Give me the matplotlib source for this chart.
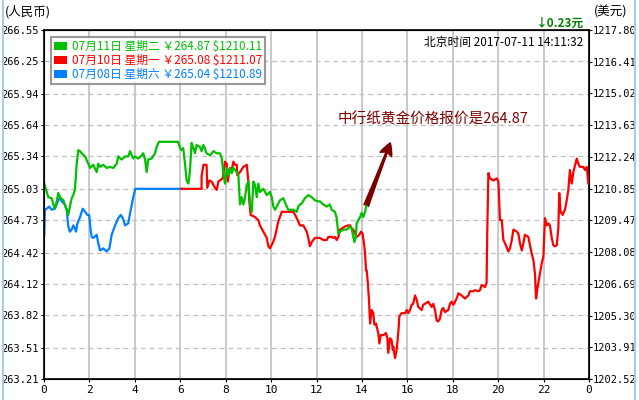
import matplotlib.pyplot as plt
from matplotlib.patches import Patch
from matplotlib.lines import Line2D

plt.rcParams['font.family'] = ['Noto Sans CJK SC', 'DejaVu Sans']

# hours since 00:00 Beijing time, price in CNY/gram
green_t = [0.01, 0.19, 0.34, 0.41, 0.48, 0.56, 0.63, 0.70, 0.85, 1.00, 1.07, 1.14, 1.22, 1.29, 1.36,
           1.44, 1.51, 1.59, 1.66, 1.81, 1.95, 2.03, 2.17, 2.32, 2.39, 2.47, 2.61, 2.76, 2.91, 3.05,
           3.20, 3.27, 3.42, 3.57, 3.71, 3.79, 3.93, 4.01, 4.15, 4.30, 4.37, 4.45, 4.52, 4.59, 4.74,
           4.89, 4.96, 5.06, 5.91, 5.99, 6.06, 6.13, 6.21, 6.28, 6.36, 6.43, 6.50, 6.58, 6.65, 6.72,
           6.87, 6.94, 7.02, 7.16, 7.31, 7.46, 7.61, 7.75, 7.83, 7.90, 7.97, 8.05, 8.12, 8.19, 8.27,
           8.34, 8.49, 8.56, 8.63, 8.71, 8.78, 8.85, 8.93, 9.00, 9.07, 9.15, 9.22, 9.29, 9.37, 9.44,
           9.51, 9.66, 9.81, 9.95, 10.03, 10.10, 10.17, 10.25, 10.39, 10.54, 10.69, 10.76, 10.98,
           11.13, 11.20, 11.27, 11.35, 11.49, 11.64, 11.79, 11.93, 12.08, 12.15, 12.30, 12.45, 12.59,
           12.67, 12.81, 12.89, 12.96, 13.04, 13.18, 13.33, 13.48, 13.55, 13.62, 13.67, 13.73, 13.77,
           13.84, 13.92, 13.99, 14.06, 14.14, 14.19]
green_p = [265.08, 264.95, 264.94, 264.88, 264.84, 264.91, 264.99, 264.95, 264.92, 264.83, 264.78,
           264.86, 264.94, 264.97, 265.02, 265.27, 265.40, 265.39, 265.37, 265.34, 265.27, 265.23,
           265.26, 265.19, 265.27, 265.24, 265.26, 265.23, 265.24, 265.23, 265.27, 265.34, 265.31,
           265.34, 265.34, 265.39, 265.32, 265.34, 265.32, 265.35, 265.37, 265.31, 265.19, 265.31,
           265.32, 265.37, 265.43, 265.48, 265.48, 265.42, 265.40, 265.42, 265.27, 265.11, 265.08,
           265.21, 265.47, 265.42, 265.37, 265.45, 265.43, 265.39, 265.45, 265.37, 265.35, 265.39,
           265.37, 265.37, 265.32, 265.18, 265.08, 265.23, 265.16, 265.23, 265.18, 265.23, 265.19,
           265.16, 264.88, 264.95, 264.88, 264.94, 265.07, 265.10, 264.89, 264.81, 265.10, 265.07,
           264.95, 265.08, 265.00, 265.03, 264.97, 265.00, 264.95, 264.86, 264.83, 264.86, 264.92,
           264.94, 264.86, 264.83, 264.83, 264.81, 264.86, 264.88, 264.89, 264.94, 264.97, 264.95,
           264.92, 264.91, 264.91, 264.88, 264.86, 264.88, 264.83, 264.81, 264.75, 264.60, 264.62,
           264.64, 264.64, 264.67, 264.65, 264.57, 264.52, 264.57, 264.70, 264.73, 264.76, 264.80,
           264.76, 264.81, 264.87]

red_t = [6.06, 6.94, 6.94, 7.02, 7.16, 7.19, 7.28, 7.38, 7.53, 7.61, 7.68, 7.75, 7.87, 7.97, 8.05,
         8.09, 8.19, 8.27, 8.34, 8.41, 8.49, 8.51, 8.63, 8.78, 8.93, 9.00, 9.04, 9.10, 9.29, 9.44,
         9.51, 9.66, 9.81, 9.88, 9.95, 10.07, 10.17, 10.32, 10.47, 10.83, 10.98, 11.13, 11.27, 11.42,
         11.57, 11.64, 11.71, 11.79, 11.93, 12.08, 12.15, 12.30, 12.45, 12.52, 12.67, 12.74, 12.81,
         12.89, 12.96, 13.04, 13.11, 13.26, 13.40, 13.48, 13.55, 13.62, 13.70, 13.77, 13.88, 13.96,
         14.03, 14.09, 14.14, 14.18, 14.21, 14.26, 14.31, 14.36, 14.43, 14.50, 14.55, 14.62, 14.72,
         14.77, 14.83, 14.94, 15.06, 15.12, 15.16, 15.24, 15.31, 15.36, 15.38, 15.46, 15.53, 15.60,
         15.65, 15.75, 15.90, 15.97, 16.04, 16.12, 16.19, 16.26, 16.34, 16.41, 16.48, 16.63, 16.70,
         16.78, 16.92, 17.07, 17.14, 17.22, 17.29, 17.36, 17.44, 17.51, 17.58, 17.66, 17.80, 17.88,
         17.95, 18.03, 18.10, 18.17, 18.25, 18.39, 18.54, 18.69, 18.76, 18.91, 18.98, 19.13, 19.20,
         19.27, 19.42, 19.49, 19.52, 19.57, 19.64, 19.79, 19.94, 20.01, 20.08, 20.16, 20.23, 20.30,
         20.45, 20.52, 20.60, 20.67, 20.82, 20.89, 20.96, 21.04, 21.11, 21.18, 21.33, 21.40, 21.48,
         21.55, 21.62, 21.67, 21.72, 21.77, 21.84, 21.92, 21.99, 22.06, 22.14, 22.21, 22.28, 22.36,
         22.43, 22.50, 22.58, 22.65, 22.69, 22.75, 22.84, 22.94, 23.02, 23.09, 23.16, 23.24, 23.31,
         23.46, 23.53, 23.60, 23.75, 23.82, 23.90, 23.97, 24.00]
red_p = [265.03, 265.03, 265.15, 265.26, 265.26, 265.04, 265.11, 265.10, 265.04, 265.02, 265.10,
         265.11, 265.13, 265.29, 265.27, 265.10, 265.23, 265.21, 265.29, 265.26, 265.26, 265.16,
         265.19, 265.24, 265.26, 265.10, 264.91, 264.78, 264.76, 264.73, 264.68, 264.62, 264.56,
         264.48, 264.46, 264.51, 264.57, 264.72, 264.81, 264.81, 264.81, 264.75, 264.68, 264.68,
         264.62, 264.56, 264.48, 264.52, 264.56, 264.56, 264.56, 264.54, 264.54, 264.57, 264.57,
         264.56, 264.57, 264.54, 264.57, 264.64, 264.65, 264.67, 264.68, 264.68, 264.65, 264.64,
         264.60, 264.57, 264.59, 264.62, 264.60, 264.51, 264.41, 264.25, 264.25, 264.13, 263.97,
         263.74, 263.87, 263.84, 263.73, 263.74, 263.65, 263.55, 263.63, 263.63, 263.65, 263.60,
         263.46, 263.60, 263.58, 263.49, 263.52, 263.41, 263.49, 263.65, 263.81, 263.84, 263.84,
         263.87, 263.84, 263.87, 263.92, 263.93, 264.01, 263.97, 263.90, 263.87, 263.92, 263.93,
         263.95, 263.90, 263.93, 263.87, 263.77, 263.76, 263.79, 263.87, 263.89, 263.85, 263.87,
         263.93, 263.95, 263.92, 263.95, 263.98, 264.03, 264.01, 263.98, 264.01, 264.05, 264.05,
         264.06, 264.05, 264.06, 264.11, 264.09, 264.13, 264.62, 265.18, 265.13, 265.11, 265.13,
         265.10, 264.73, 264.73, 264.54, 264.51, 264.43, 264.46, 264.54, 264.64, 264.62, 264.60,
         264.51, 264.44, 264.51, 264.59, 264.57, 264.49, 264.41, 264.35, 264.22, 263.98, 264.06,
         264.13, 264.22, 264.32, 264.38, 264.75, 264.68, 264.70, 264.68, 264.56, 264.49, 264.48,
         264.49, 264.65, 264.99, 264.81, 264.78, 264.83, 264.92, 265.02, 265.21, 265.08, 265.19,
         265.32, 265.27, 265.24, 265.24, 265.21, 265.24, 265.08, 265.08]

blue_t = [0.01, 0.04, 0.12, 0.23, 0.34, 0.48, 0.63, 0.70, 0.78, 0.92, 1.00, 1.07, 1.14, 1.22, 1.29,
          1.36, 1.41, 1.47, 1.59, 1.70, 1.81, 1.91, 1.99, 2.05, 2.10, 2.17, 2.32, 2.39, 2.47, 2.61,
          2.76, 2.88, 2.98, 3.13, 3.27, 3.38, 3.47, 3.57, 3.71, 3.82, 3.93, 4.02, 6.06]
blue_p = [264.59, 264.83, 264.84, 264.86, 264.83, 264.84, 264.92, 264.94, 264.91, 264.88, 264.83,
          264.67, 264.62, 264.64, 264.68, 264.65, 264.62, 264.70, 264.76, 264.84, 264.81, 264.78,
          264.78, 264.64, 264.57, 264.56, 264.59, 264.51, 264.44, 264.46, 264.43, 264.46, 264.59,
          264.68, 264.75, 264.78, 264.75, 264.68, 264.70, 264.83, 264.95, 265.03, 265.03]

legend_labels = ["07月11日 星期二 ￥264.87 $1210.11",
                 "07月10日 星期一 ￥265.08 $1211.07",
                 "07月08日 星期六 ￥265.04 $1210.89"]
colors = ["#00c000", "#ff0000", "#0080ff"]

cny_ticks = [263.21, 263.51, 263.82, 264.12, 264.42, 264.73, 265.03, 265.34, 265.64, 265.94,
             266.25, 266.55]
usd_ticks = [1202.52, 1203.91, 1205.30, 1206.69, 1208.08, 1209.47, 1210.85, 1212.24, 1213.63,
             1215.02, 1216.41, 1217.80]
hour_ticks = list(range(0, 25, 2))
hour_labels = [str(h % 24) for h in hour_ticks]

note = "中行纸黄金价格报价是264.87"
note_pos = (12.95, 265.70)
arrow_tip = (15.25, 265.47)

fig = plt.figure(figsize=(6.39, 4.0), dpi=100)
ax = fig.add_axes([44 / 639, 21 / 400, 545 / 639, 349 / 400])

ax.plot(blue_t, blue_p, color=colors[2], lw=1.6, zorder=3)
ax.plot(red_t, red_p, color=colors[1], lw=1.6, zorder=4)
ax.plot(green_t, green_p, color=colors[0], lw=1.6, zorder=5)

ax.set_xlim(0, 24)
ax.set_ylim(cny_ticks[0], cny_ticks[-1])
ax.set_xticks(hour_ticks)
ax.set_xticklabels(hour_labels, family='DejaVu Sans Mono', fontsize=8)
ax.set_yticks(cny_ticks)
ax.set_yticklabels([f"{v:.2f}" for v in cny_ticks], family='DejaVu Sans Mono', fontsize=7.5)
ax.tick_params(axis='both', length=2, pad=2)
ax.grid(axis='y', color='#c0c0c0', linestyle=(0, (4, 3)), lw=0.9)
ax.grid(axis='x', color='#c0c0c0', linestyle='-', lw=1.2)
for s in ax.spines.values():
    s.set_linewidth(1.2)

ax2 = ax.twinx()
ax2.set_ylim(usd_ticks[0], usd_ticks[-1])
ax2.set_yticks(usd_ticks)
ax2.set_yticklabels([f"{v:.2f}" for v in usd_ticks], family='DejaVu Sans Mono', fontsize=7.5)
ax2.tick_params(axis='y', length=2, pad=1)

handles = [Patch(facecolor=c, edgecolor='none') for c in colors]
leg = ax.legend(handles, legend_labels, loc='upper left', bbox_to_anchor=(0.013, 0.98),
                borderaxespad=0, frameon=True, fancybox=False, edgecolor='#808080',
                handlelength=1.1, handleheight=0.6, handletextpad=0.4, labelspacing=0.1,
                borderpad=0.25, prop={'size': 8.5}, labelcolor=colors)
leg.get_frame().set_linewidth(1.5)
leg.set_zorder(10)

ax.text(0.99, 0.963, "北京时间 2017-07-11 14:11:32", transform=ax.transAxes,
        ha='right', va='center', fontsize=8.5, color='black')
ax.text(note_pos[0], note_pos[1], note, ha='left', va='center', fontsize=10.5, color='#800000',
        zorder=6)
ax.annotate('', xy=arrow_tip, xytext=(green_t[-1], green_p[-1]),
            arrowprops=dict(arrowstyle='fancy,head_length=0.9,head_width=0.9,tail_width=0.35',
                            color='#7a0000', shrinkA=0, shrinkB=0), zorder=7)

fig.text(5 / 639, 1 - 12 / 400, "(人民币)", ha='left', va='center', fontsize=9)
fig.text(594 / 639, 1 - 12 / 400, "(美元)", ha='left', va='center', fontsize=9)
fig.text(584 / 639, 1 - 23 / 400, "↓0.23元", ha='right', va='center', fontsize=8.5,
         color='#008000', fontweight='bold')

for xf in (3 / 639, 635 / 639):
    fig.add_artist(Line2D([xf, xf], [0, 1], color='#a8cce8', lw=1.5))

fig.savefig('out.png', dpi=100)
